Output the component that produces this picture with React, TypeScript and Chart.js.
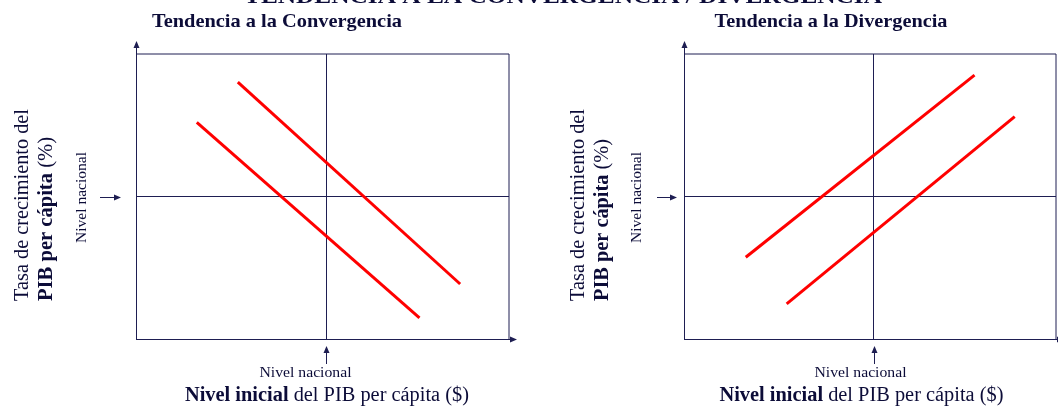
import React, { useEffect, useRef } from "react";
import { Chart, registerables } from "chart.js";

Chart.register(...registerables);

// ---------- texts ----------
const mainTitle = "TENDENCIA A LA CONVERGENCIA / DIVERGENCIA";
const panelTitles = ["Tendencia a la Convergencia", "Tendencia a la Divergencia"];
const yTitleLine1 = "Tasa de crecimiento del";
const yTitleBold = "PIB per cápita";
const yTitleRest = " (%)";
const xTitleBold = "Nivel inicial";
const xTitleRest = " del PIB per cápita ($)";
const refLabel = "Nivel nacional";

// ---------- data ----------
const nationalLevelX = [5.1];
const nationalLevelY = [5.0];

const convergenceHighX = [2.73, 8.69];
const convergenceHighY = [9.01, 1.93];
const convergenceLowX = [1.63, 7.6];
const convergenceLowY = [7.6, 0.74];

const divergenceHighX = [1.66, 7.81];
const divergenceHighY = [2.87, 9.26];
const divergenceLowX = [2.76, 8.89];
const divergenceLowY = [1.23, 7.8];

// ---------- style ----------
const NAVY = "#1e1e52";
const TEXT = "#0c0c38";
const RED = "#ff0000";
const SERIF = "'Liberation Serif', 'Times New Roman', serif";

type Part = { text: string; font: string };

function drawParts(
  ctx: CanvasRenderingContext2D,
  parts: Part[],
  x: number,
  y: number,
  width: number,
  align: "left" | "center"
) {
  let total = 0;
  const widths: number[] = [];
  for (const p of parts) {
    ctx.font = p.font;
    const w = ctx.measureText(p.text).width;
    widths.push(w);
    total += w;
  }
  const s = width / total;
  ctx.save();
  ctx.translate(x, y);
  ctx.scale(s, 1);
  ctx.textAlign = "left";
  let cx = align === "center" ? -total / 2 : 0;
  parts.forEach((p, i) => {
    ctx.font = p.font;
    ctx.fillText(p.text, cx, 0);
    cx += widths[i];
  });
  ctx.restore();
}

function arrowHead(ctx: CanvasRenderingContext2D, tx: number, ty: number, dir: "up" | "right") {
  ctx.beginPath();
  if (dir === "up") {
    ctx.moveTo(tx, ty);
    ctx.lineTo(tx - 3, ty + 7);
    ctx.lineTo(tx + 3, ty + 7);
  } else {
    ctx.moveTo(tx, ty);
    ctx.lineTo(tx - 7, ty - 3);
    ctx.lineTo(tx - 7, ty + 3);
  }
  ctx.closePath();
  ctx.fill();
}

type PanelLayout = {
  canvasLeft: number;
  padding: { left: number; right: number; top: number; bottom: number };
  yLine1Dx: number;
  yLine2Dx: number;
  line1W: number;
  line2W: number;
  refYDx: number;
  arrowStartDx: number;
  arrowEndDx: number;
  refXDx: number;
  xTitleX: number;
  titleX: number;
  titleW: number;
};

const layouts: PanelLayout[] = [
  {
    canvasLeft: 0,
    padding: { left: 136, right: 20, top: 54, bottom: 68 },
    yLine1Dx: -113,
    yLine2Dx: -89,
    line1W: 192,
    line2W: 164,
    refYDx: -54,
    arrowStartDx: -36,
    arrowEndDx: -15,
    refXDx: -21,
    xTitleX: 327,
    titleX: 277,
    titleW: 250,
  },
  {
    canvasLeft: 529,
    padding: { left: 155, right: 2, top: 54, bottom: 68 },
    yLine1Dx: -105,
    yLine2Dx: -81,
    line1W: 192,
    line2W: 162,
    refYDx: -47,
    arrowStartDx: -27,
    arrowEndDx: -7,
    refXDx: -14,
    xTitleX: 861.5 - 529,
    titleX: 831 - 529,
    titleW: 233,
  },
];

function makePlugin(idx: number) {
  const L = layouts[idx];
  return {
    id: "annot" + idx,
    afterDraw(chart: any) {
      const ctx: CanvasRenderingContext2D = chart.ctx;
      const a = chart.chartArea;
      const xs = chart.scales.x;
      const ys = chart.scales.y;
      const natX = Math.round(xs.getPixelForValue(nationalLevelX[0])) + 0.5;
      const natY = Math.round(ys.getPixelForValue(nationalLevelY[0])) + 0.5;
      const left = Math.round(a.left) + 0.5;
      const bottom = Math.round(a.bottom) + 0.5;
      ctx.save();
      // box top & right
      ctx.strokeStyle = NAVY;
      ctx.lineWidth = 1;
      ctx.beginPath();
      ctx.moveTo(a.left, Math.round(a.top));
      ctx.lineTo(a.right, Math.round(a.top));
      ctx.moveTo(Math.round(a.right), a.top);
      ctx.lineTo(Math.round(a.right), a.bottom);
      ctx.stroke();

      // axis arrows
      ctx.fillStyle = NAVY;
      ctx.beginPath();
      ctx.moveTo(left, a.top);
      ctx.lineTo(left, 48);
      ctx.moveTo(a.right, bottom);
      ctx.lineTo(a.right + 2, bottom);
      ctx.stroke();
      arrowHead(ctx, left, 41, "up");
      arrowHead(ctx, a.right + 8, bottom, "right");

      // reference arrows
      ctx.beginPath();
      ctx.moveTo(a.left + L.arrowStartDx, natY);
      ctx.lineTo(a.left + L.arrowEndDx - 5, natY);
      ctx.moveTo(natX, a.bottom + 25);
      ctx.lineTo(natX, a.bottom + 11);
      ctx.stroke();
      arrowHead(ctx, a.left + L.arrowEndDx, natY, "right");
      arrowHead(ctx, natX, a.bottom + 7, "up");

      // texts
      ctx.fillStyle = TEXT;
      ctx.textBaseline = "alphabetic";
      drawParts(ctx, [{ text: mainTitle, font: `bold 22px ${SERIF}` }], 563 - L.canvasLeft, 3, 638, "center");
      ctx.textBaseline = "middle";
      drawParts(ctx, [{ text: panelTitles[idx], font: `bold 19px ${SERIF}` }], L.titleX, 22, L.titleW, "center");

      // y title (rotated)
      ctx.save();
      ctx.translate(a.left + L.yLine1Dx, 301);
      ctx.rotate(-Math.PI / 2);
      drawParts(ctx, [{ text: yTitleLine1, font: `20px ${SERIF}` }], 0, 0, L.line1W, "left");
      ctx.restore();
      ctx.save();
      ctx.translate(a.left + L.yLine2Dx, 301);
      ctx.rotate(-Math.PI / 2);
      drawParts(
        ctx,
        [
          { text: yTitleBold, font: `bold 20px ${SERIF}` },
          { text: yTitleRest, font: `20px ${SERIF}` },
        ],
        0,
        0,
        L.line2W,
        "left"
      );
      ctx.restore();
      ctx.save();
      ctx.translate(a.left + L.refYDx, natY);
      ctx.rotate(-Math.PI / 2);
      drawParts(ctx, [{ text: refLabel, font: `14px ${SERIF}` }], 0, 0, 91, "center");
      ctx.restore();

      // bottom labels
      drawParts(ctx, [{ text: refLabel, font: `14px ${SERIF}` }], natX + L.refXDx, 373, 92, "center");
      drawParts(
        ctx,
        [
          { text: xTitleBold, font: `bold 20px ${SERIF}` },
          { text: xTitleRest, font: `20px ${SERIF}` },
        ],
        L.xTitleX,
        396,
        284,
        "center"
      );
      ctx.restore();
    },
  };
}

function lineDataset(xs: number[], ys: number[]) {
  return {
    data: xs.map((x, i) => ({ x, y: ys[i] })),
    showLine: true,
    borderColor: RED,
    backgroundColor: RED,
    borderWidth: 3,
    pointRadius: 0,
    fill: false,
  };
}

function Panel({ idx }: { idx: number }) {
  const ref = useRef<HTMLCanvasElement | null>(null);
  useEffect(() => {
    if (!ref.current) return;
    const L = layouts[idx];
    const datasets =
      idx === 0
        ? [lineDataset(convergenceHighX, convergenceHighY), lineDataset(convergenceLowX, convergenceLowY)]
        : [lineDataset(divergenceHighX, divergenceHighY), lineDataset(divergenceLowX, divergenceLowY)];
    const chart = new Chart(ref.current, {
      type: "scatter",
      data: { datasets: datasets as any },
      options: {
        responsive: false,
        animation: false,
        devicePixelRatio: 1,
        layout: { padding: L.padding },
        plugins: { legend: { display: false }, tooltip: { enabled: false }, title: { display: false } },
        scales: {
          x: {
            type: "linear",
            min: 0,
            max: 10,
            ticks: { display: false },
            grid: { display: true, drawTicks: false, color: NAVY, lineWidth: 1 },
            border: { display: true, color: NAVY, width: 1 },
            afterBuildTicks: (s: any) => {
              s.ticks = nationalLevelX.map((v) => ({ value: v }));
            },
          },
          y: {
            type: "linear",
            min: 0,
            max: 10,
            ticks: { display: false },
            grid: { display: true, drawTicks: false, color: NAVY, lineWidth: 1 },
            border: { display: true, color: NAVY, width: 1 },
            afterBuildTicks: (s: any) => {
              s.ticks = nationalLevelY.map((v) => ({ value: v }));
            },
          },
        },
      } as any,
      plugins: [makePlugin(idx)],
    });
    return () => chart.destroy();
  }, [idx]);
  const L = layouts[idx];
  return (
    <canvas
      ref={ref}
      width={529}
      height={407}
      style={{ position: "absolute", left: L.canvasLeft, top: 0, width: 529, height: 407 }}
    />
  );
}

export default function App() {
  return (
    <div style={{ position: "absolute", left: 0, top: 0, width: 1058, height: 407, background: "#ffffff", overflow: "hidden" }}>
      <Panel idx={0} />
      <Panel idx={1} />
    </div>
  );
}
